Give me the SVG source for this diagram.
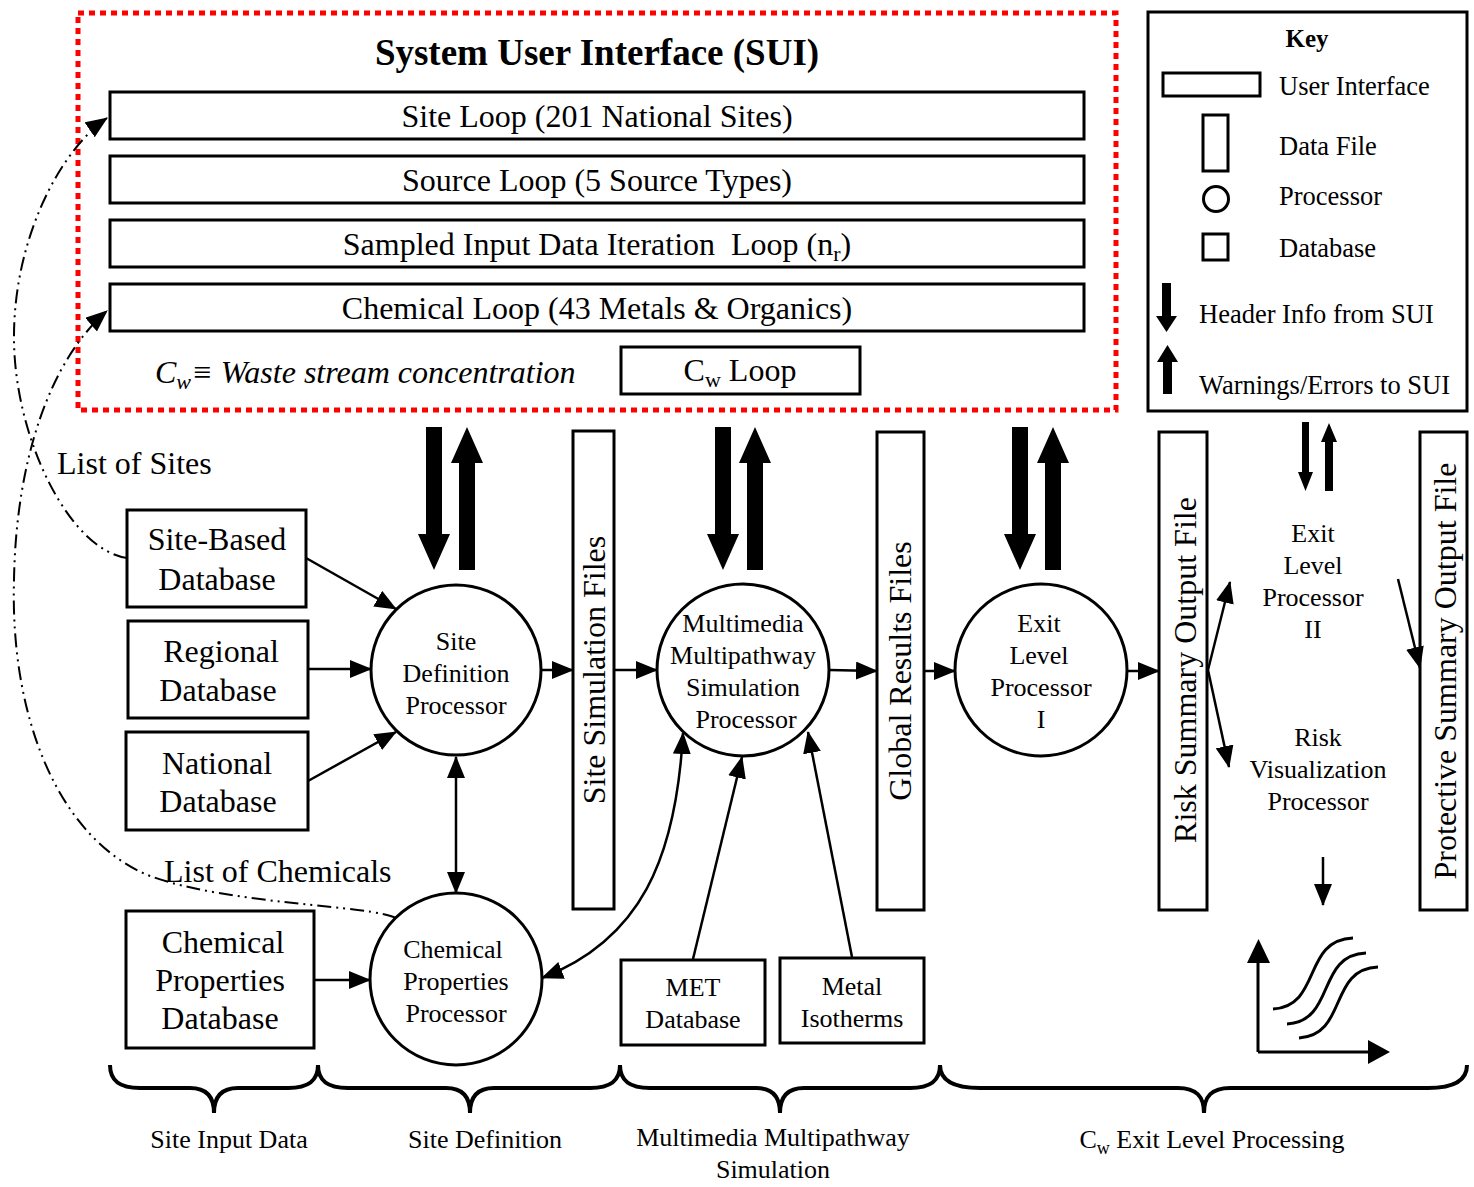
<svg xmlns="http://www.w3.org/2000/svg" width="1474" height="1187" viewBox="0 0 1474 1187">
<defs>
<style>
.t{font-family:"Liberation Serif","Times New Roman",serif;fill:#000}
.s32{font-size:32px}
.s26{font-size:26px}
.k26{font-size:26.5px}
.box{fill:#fff;stroke:#000;stroke-width:3}
.ln{fill:none;stroke:#000;stroke-width:2.5}
.dd{fill:none;stroke:#000;stroke-width:2;stroke-dasharray:14 5 2 5 2 5}
.brace{fill:none;stroke:#000;stroke-width:4}
.fat{fill:#000;stroke:none}
.curve{fill:none;stroke:#000;stroke-width:3}
</style>
<marker id="ah" markerUnits="userSpaceOnUse" markerWidth="22" markerHeight="18" viewBox="0 0 22 18" refX="21" refY="9" orient="auto-start-reverse"><path d="M0,0 L22,9 L0,18 z" fill="#000"/></marker>
</defs>
<rect x="0" y="0" width="1474" height="1187" fill="#fff"/>

<!-- SUI -->
<g id="sui">
<rect x="78" y="13" width="1038" height="397" fill="none" stroke="#ff0000" stroke-width="5" stroke-dasharray="6 5"/>
<text class="t" x="597" y="65" text-anchor="middle" font-size="37" font-weight="bold">System User Interface (SUI)</text>
</g>
<g id="site-loop"><rect class="box" x="110" y="92" width="974" height="47"/><text class="t s32" x="597" y="127" text-anchor="middle">Site Loop (201 National Sites)</text></g>
<g id="source-loop"><rect class="box" x="110" y="156" width="974" height="47"/><text class="t s32" x="597" y="191" text-anchor="middle">Source Loop (5 Source Types)</text></g>
<g id="sampled-loop"><rect class="box" x="110" y="220" width="974" height="47"/><text class="t s32" x="597" y="255" text-anchor="middle" xml:space="preserve">Sampled Input Data Iteration  Loop (n<tspan font-size="22" dy="6">r</tspan><tspan dy="-6">)</tspan></text></g>
<g id="chemical-loop"><rect class="box" x="110" y="284" width="974" height="47"/><text class="t s32" x="597" y="319" text-anchor="middle">Chemical Loop (43 Metals &amp; Organics)</text></g>
<g id="cw-def"><text class="t s32" x="155" y="383" font-style="italic">C<tspan font-size="22" dy="6">w</tspan><tspan dy="-6">≡ Waste stream concentration</tspan></text></g>
<g id="cw-loop"><rect class="box" x="621" y="347" width="239" height="47"/><text class="t s32" x="740" y="381" text-anchor="middle">C<tspan font-size="22" dy="6">w</tspan><tspan dy="-6"> Loop</tspan></text></g>

<!-- Key -->
<g id="key">
<rect x="1148" y="12" width="319" height="399" fill="#fff" stroke="#000" stroke-width="3"/>
<text class="t" x="1307" y="47" text-anchor="middle" font-size="25" font-weight="bold">Key</text>
<rect x="1163" y="73" width="97" height="23" fill="none" stroke="#000" stroke-width="3"/>
<text class="t k26" x="1279" y="95">User Interface</text>
<rect x="1203" y="115" width="25" height="56" fill="none" stroke="#000" stroke-width="3"/>
<text class="t k26" x="1279" y="155">Data File</text>
<circle cx="1216" cy="199" r="12.5" fill="none" stroke="#000" stroke-width="3"/>
<text class="t k26" x="1279" y="205">Processor</text>
<rect x="1203" y="234" width="25" height="26" fill="none" stroke="#000" stroke-width="3"/>
<text class="t k26" x="1279" y="257">Database</text>
<path class="fat" d="M1162 283 H1171 V316 H1177 L1166.5 332 L1156 316 H1162 Z"/>
<text class="t k26" x="1199" y="323">Header Info from SUI</text>
<path class="fat" d="M1163 394 H1172 V362 H1178 L1167.5 345 L1157 362 H1163 Z"/>
<text class="t k26" x="1199" y="394">Warnings/Errors to SUI</text>
</g>

<!-- Databases -->
<g id="site-based-db"><rect class="box" x="127" y="510" width="179" height="97"/><text class="t s32" x="217" y="550" text-anchor="middle">Site-Based</text><text class="t s32" x="217" y="590" text-anchor="middle">Database</text></g>
<g id="regional-db"><rect class="box" x="128" y="621" width="180" height="97"/><text class="t s32" x="221" y="662" text-anchor="middle">Regional</text><text class="t s32" x="218" y="701" text-anchor="middle">Database</text></g>
<g id="national-db"><rect class="box" x="126" y="732" width="182" height="98"/><text class="t s32" x="217" y="774" text-anchor="middle">National</text><text class="t s32" x="218" y="812" text-anchor="middle">Database</text></g>
<g id="chem-prop-db"><rect class="box" x="126" y="911" width="188" height="137"/><text class="t s32" x="223" y="953" text-anchor="middle">Chemical</text><text class="t s32" x="220" y="991" text-anchor="middle">Properties</text><text class="t s32" x="220" y="1029" text-anchor="middle">Database</text></g>
<g id="met-db"><rect class="box" x="621" y="960" width="144" height="85"/><text class="t s26" x="693" y="996" text-anchor="middle">MET</text><text class="t s26" x="693" y="1028" text-anchor="middle">Database</text></g>
<g id="metal-iso"><rect class="box" x="780" y="958" width="144" height="85"/><text class="t s26" x="852" y="995" text-anchor="middle">Metal</text><text class="t s26" x="852" y="1027" text-anchor="middle">Isotherms</text></g>

<!-- Processors -->
<g id="sdp"><circle class="box" cx="456" cy="670" r="85"/><text class="t s26" x="456" y="650" text-anchor="middle">Site</text><text class="t s26" x="456" y="682" text-anchor="middle">Definition</text><text class="t s26" x="456" y="714" text-anchor="middle">Processor</text></g>
<g id="cpp"><circle class="box" cx="456" cy="979" r="86"/><text class="t s26" x="453" y="958" text-anchor="middle">Chemical</text><text class="t s26" x="456" y="990" text-anchor="middle">Properties</text><text class="t s26" x="456" y="1022" text-anchor="middle">Processor</text></g>
<g id="mmsp"><circle class="box" cx="743" cy="670" r="86"/><text class="t s26" x="743" y="632" text-anchor="middle">Multimedia</text><text class="t s26" x="743" y="664" text-anchor="middle">Multipathway</text><text class="t s26" x="743" y="696" text-anchor="middle">Simulation</text><text class="t s26" x="746" y="728" text-anchor="middle">Processor</text></g>
<g id="elp1"><circle class="box" cx="1041" cy="670" r="86"/><text class="t s26" x="1039" y="632" text-anchor="middle">Exit</text><text class="t s26" x="1039" y="664" text-anchor="middle">Level</text><text class="t s26" x="1041" y="696" text-anchor="middle">Processor</text><text class="t s26" x="1041" y="728" text-anchor="middle">I</text></g>
<g id="elp2"><text class="t s26" x="1313" y="542" text-anchor="middle">Exit</text><text class="t s26" x="1313" y="574" text-anchor="middle">Level</text><text class="t s26" x="1313" y="606" text-anchor="middle">Processor</text><text class="t s26" x="1313" y="638" text-anchor="middle">II</text></g>
<g id="rvp"><text class="t s26" x="1318" y="746" text-anchor="middle">Risk</text><text class="t s26" x="1318" y="778" text-anchor="middle">Visualization</text><text class="t s26" x="1318" y="810" text-anchor="middle">Processor</text></g>

<!-- Data files -->
<g id="site-sim-files"><rect class="box" x="573" y="431" width="41" height="478"/><text class="t s32" transform="translate(605 670) rotate(-90)" text-anchor="middle">Site Simulation Files</text></g>
<g id="global-results"><rect class="box" x="877" y="432" width="47" height="478"/><text class="t s32" transform="translate(911 671) rotate(-90)" text-anchor="middle">Global Results Files</text></g>
<g id="risk-summary"><rect class="box" x="1159" y="432" width="48" height="478"/><text class="t s32" transform="translate(1196 670) rotate(-90)" text-anchor="middle">Risk Summary Output File</text></g>
<g id="protective-summary"><rect class="box" x="1420" y="432" width="47" height="478"/><text class="t s32" transform="translate(1456 671) rotate(-90)" text-anchor="middle">Protective Summary Output File</text></g>

<!-- Chart -->
<g id="chart">
<path d="M1258 1052 V960 M1258 1052 H1370" fill="none" stroke="#000" stroke-width="3"/>
<path class="fat" d="M1247 963 L1270 963 L1258.5 939 Z"/>
<path class="fat" d="M1368 1040 L1368 1064 L1390 1052 Z"/>
<path class="curve" d="M1273 1009 C1322 1006 1302 940 1353 938"/>
<path class="curve" d="M1287 1024 C1336 1021 1316 955 1366 953"/>
<path class="curve" d="M1299 1038 C1348 1035 1328 969 1378 967"/>
</g>

<!-- Connectors -->
<g id="connectors">
<path class="fat" d="M426 427 H442 V534 H450 L434 570 L418 534 H426 Z"/>
<path class="fat" d="M459 570 H475 V463 H483 L467 427 L451 463 H459 Z"/>
<path class="fat" d="M715 427 H731 V534 H739 L723 570 L707 534 H715 Z"/>
<path class="fat" d="M747 570 H763 V463 H771 L755 427 L739 463 H747 Z"/>
<path class="fat" d="M1012 427 H1028 V534 H1036 L1020 570 L1004 534 H1012 Z"/>
<path class="fat" d="M1045 570 H1061 V463 H1069 L1053 427 L1037 463 H1045 Z"/>
<path class="fat" d="M1302 422 H1309 V472 H1313 L1305.5 491 L1298 472 H1302 Z"/>
<path class="fat" d="M1325 491 H1333 V442 H1337 L1329 423 L1321 442 H1325 Z"/>

<line class="ln" x1="306" y1="558" x2="396" y2="609" marker-end="url(#ah)"/>
<line class="ln" x1="308" y1="669" x2="371" y2="669" marker-end="url(#ah)"/>
<line class="ln" x1="308" y1="781" x2="396" y2="732" marker-end="url(#ah)"/>
<line class="ln" x1="456" y1="757" x2="456" y2="893" marker-start="url(#ah)" marker-end="url(#ah)"/>
<line class="ln" x1="541" y1="670" x2="573" y2="670" marker-end="url(#ah)"/>
<line class="ln" x1="614" y1="670" x2="657" y2="670" marker-end="url(#ah)"/>
<line class="ln" x1="829" y1="670" x2="877" y2="671" marker-end="url(#ah)"/>
<line class="ln" x1="924" y1="671" x2="955" y2="671" marker-end="url(#ah)"/>
<line class="ln" x1="1127" y1="671" x2="1159" y2="671" marker-end="url(#ah)"/>
<line class="ln" x1="314" y1="980" x2="370" y2="980" marker-end="url(#ah)"/>
<line class="ln" x1="693" y1="959" x2="742" y2="757" marker-end="url(#ah)"/>
<line class="ln" x1="852" y1="957" x2="808" y2="732" marker-end="url(#ah)"/>
<path class="ln" d="M683 733 C676 860 640 940 542 978" marker-start="url(#ah)" marker-end="url(#ah)"/>
<line class="ln" x1="1208" y1="670" x2="1230" y2="582" marker-end="url(#ah)"/>
<line class="ln" x1="1208" y1="670" x2="1229" y2="767" marker-end="url(#ah)"/>
<line class="ln" x1="1398" y1="579" x2="1420" y2="668" marker-end="url(#ah)"/>
<line class="ln" x1="1323" y1="857" x2="1323" y2="905" marker-end="url(#ah)"/>

<path class="dd" d="M127 558 C70 550 15 440 14 340 C13 240 60 150 107 118" marker-end="url(#ah)"/>
<path class="dd" d="M396 918 C370 905 230 905 150 876 C60 840 10 720 14 580 C16 460 50 360 107 311" marker-end="url(#ah)"/>
</g>

<g id="dd-labels">
<text class="t s32" x="57" y="474">List of Sites</text>
<text class="t s32" x="164" y="882">List of Chemicals</text>
</g>

<!-- Braces -->
<g id="braces">
<path class="brace" d="M110 1065 C110 1081 120 1088 140 1088 L190 1088 C206 1088 214 1096 214 1113 C214 1096 222 1088 238 1088 L288 1088 C308 1088 318 1081 318 1065"/>
<path class="brace" d="M318 1065 C318 1081 328 1088 348 1088 L446 1088 C462 1088 470 1096 470 1113 C470 1096 478 1088 494 1088 L590 1088 C610 1088 620 1081 620 1065"/>
<path class="brace" d="M620 1065 C620 1081 630 1088 650 1088 L756 1088 C772 1088 780 1096 780 1113 C780 1096 788 1088 804 1088 L910 1088 C930 1088 940 1081 940 1065"/>
<path class="brace" d="M940 1065 C940 1081 955 1088 980 1088 L1178 1088 C1196 1088 1204 1096 1204 1113 C1204 1096 1212 1088 1230 1088 L1428 1088 C1453 1088 1467 1081 1467 1065"/>
<text class="t s26" x="229" y="1148" text-anchor="middle">Site Input Data</text>
<text class="t s26" x="485" y="1148" text-anchor="middle">Site Definition</text>
<text class="t s26" x="773" y="1146" text-anchor="middle">Multimedia Multipathway</text>
<text class="t s26" x="773" y="1178" text-anchor="middle">Simulation</text>
<text class="t s26" x="1212" y="1148" text-anchor="middle">C<tspan font-size="18" dy="6">w</tspan><tspan dy="-6"> Exit Level Processing</tspan></text>
</g>
</svg>
